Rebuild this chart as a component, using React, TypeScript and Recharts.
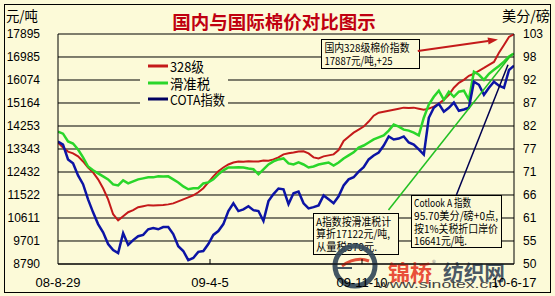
import React from 'react';
import { LineChart, Line, XAxis, YAxis, CartesianGrid, ReferenceLine } from 'recharts';

// ---- data ----
const xLabels = ['08-8-29', '09-4-5', '09-11-10', '10-6-17'];
const leftTicks = [8790, 9701, 10611, 11522, 12432, 13343, 14253, 15164, 16074, 16985, 17895];
const rightTicks = [50, 55.3, 60.6, 65.9, 71.2, 76.5, 81.8, 87.1, 92.4, 97.7, 103];

// 国内328级 (元/吨)
const grade328 = [
  13600, 13400, 13240, 13170, 13050, 12850, 12610, 12420, 12140, 11790,
  11350, 10760, 10520, 10680, 10840, 10920, 11040, 11080, 11120, 11110,
  11120, 11130, 11150, 11190, 11270, 11350, 11430, 11510, 11630, 11790,
  12020, 12260, 12460, 12610, 12730, 12810, 12850, 12840, 12860, 12850,
  12850, 12890, 12880, 12930, 13010, 13130, 13170, 13200, 13240, 13250,
  13170, 13010, 12970, 13050, 13090, 13130, 13300, 13660, 13830, 13990,
  14110, 14230, 14430, 14660, 14780, 14820, 14860, 14900, 14940, 14980,
  14970, 14980, 14940, 14900, 14940, 15020, 15140, 15290, 15490, 15770,
  15960, 16080, 16240, 16320, 16440, 16550, 16670, 16790, 17150, 17460,
  17780, 17887,
];

// 滑准税 (元/吨)
const slidingTax = [
  14030, 13950, 13640, 13560, 13320, 13010, 12650, 12500, 12380, 12260,
  12140, 11940, 11900, 12100, 11980, 12060, 12140, 12180, 12220, 12220,
  12260, 12250, 12260, 12140, 12020, 11860, 11750, 11790, 11790, 11980,
  12020, 12140, 12340, 12500, 12610, 12610, 12620, 12610, 12570, 12540,
  12340, 12540, 12730, 12850, 12930, 12970, 12770, 12730, 12810, 12730,
  12610, 12650, 12730, 12770, 12810, 12690, 12810, 12970, 13090, 13210,
  13400, 13480, 13600, 13720, 13800, 13880, 14070, 14310, 14230, 14110,
  14070, 13990, 13880, 14580, 15100, 15410, 15650, 15290, 15610, 15410,
  15610, 15650, 15290, 16400, 16280, 16080, 16320, 16480, 16630, 16800,
  17000, 17122,
];

// COTA指数 (美分/磅)
const cotaIndex = [
  78.2, 77.5, 74.1, 73.2, 70.4, 68.4, 64.9, 61.9, 59.2, 57.3,
  54.6, 53.2, 52.5, 57.1, 54.4, 55.5, 56.4, 56.7, 58.0, 58.3,
  58.0, 58.5, 58.5, 56.9, 54.1, 53.0, 50.9, 51.4, 52.8, 53.0,
  54.6, 56.7, 57.6, 59.2, 62.2, 64.0, 62.2, 62.6, 63.3, 62.4,
  62.2, 59.9, 64.5, 66.1, 67.4, 67.2, 63.8, 66.3, 66.7, 64.0,
  62.8, 63.1, 63.5, 65.8, 64.9, 64.0, 65.6, 68.1, 69.5, 70.0,
  71.3, 72.3, 74.1, 75.0, 75.7, 77.3, 79.4, 78.7, 78.9, 79.4,
  78.0, 77.5, 76.4, 75.2, 83.7, 86.0, 86.9, 85.1, 86.0, 87.2,
  85.3, 85.6, 86.0, 92.0, 91.3, 89.0, 90.6, 92.0, 91.1, 90.6,
  94.7, 95.7,
];

// pointer anchors (data coordinates: index, value)
const redArrow = [{ x: 71.8, y: 17222 }, { x: 87.8, y: 17677 }];
const greenPointer = [{ x: 65.95, y: 10928 }, { x: 90.6, y: 17103 }];
const navyPointer = [{ x: 79.5, y: 65.9 }, { x: 89.8, y: 95.9 }];

const lastIdx = grade328.length - 1;
const xTicks = xLabels.map((_, k) => (k * lastIdx) / (xLabels.length - 1));
const data = grade328.map((v, i) => ({ i, r: v, g: slidingTax[i], c: cotaIndex[i] }));

// ---- style ----
const BG = '#fcfad8';
const RED = '#c41a1a';
const GREEN = '#2ad62a';
const NAVY = '#0c14a4';
const CJK = '"Noto Sans CJK SC", sans-serif';
const LAT = '"Liberation Sans", Arial, sans-serif';
const X_TICK_MARGIN = 14;

const XTick = (props: any) => {
  const { x, y, payload } = props;
  const step = lastIdx / (xLabels.length - 1);
  const k = Math.round(payload.value / step);
  const base = y - X_TICK_MARGIN;
  return (
    <g>
      {k > 0 && k < xLabels.length - 1 ? (
        <line x1={x} x2={x} y1={base} y2={base - 5} stroke="#000" strokeWidth={1} />
      ) : null}
      <text x={x} y={y} dy="0.71em" textAnchor="middle" fontSize={13} fontFamily={LAT} fill="#000">
        {xLabels[k]}
      </text>
    </g>
  );
};

const ArrowShape = (p: any) => {
  const { x1, y1, x2, y2 } = p;
  const ang = Math.atan2(y2 - y1, x2 - x1);
  const L = 10;
  const W = 3.5;
  const bx = x2 - L * Math.cos(ang);
  const by = y2 - L * Math.sin(ang);
  const px = -Math.sin(ang) * W;
  const py = Math.cos(ang) * W;
  return (
    <g>
      <line x1={x1} y1={y1} x2={bx} y2={by} stroke={RED} strokeWidth={2} />
      <polygon points={`${x2},${y2} ${bx + px},${by + py} ${bx - px},${by - py}`} fill={RED} />
    </g>
  );
};

const T = (p: { x: number; y: number; w?: number; size?: number; children: any; fill?: string; bold?: boolean; family?: string }) => (
  <text
    x={p.x}
    y={p.y}
    dominantBaseline="central"
    fontSize={p.size ?? 11}
    fontFamily={p.family ?? CJK}
    fill={p.fill ?? '#000'}
    fontWeight={p.bold ? 700 : 400}
    textLength={p.w}
    lengthAdjust={p.w ? 'spacingAndGlyphs' : undefined}
  >
    {p.children}
  </text>
);

export default function App() {
  return (
    <div style={{ position: 'absolute', left: 0, top: 0, width: 555, height: 296, background: BG, overflow: 'hidden' }}>
      <div style={{ position: 'absolute', left: 4, top: 4, width: 545, height: 287, border: '1px solid #000' }} />
      <div style={{ position: 'absolute', left: 0, top: 0 }}>
        <LineChart width={555} height={296} data={data} margin={{ top: 34, right: 0, bottom: 12, left: 0 }}>
          <CartesianGrid yAxisId="left" vertical={false} stroke="#000" strokeOpacity={1} />
          <XAxis
            dataKey="i"
            type="number"
            domain={[0, lastIdx]}
            ticks={xTicks}
            interval={0}
            height={20}
            tickSize={0}
            tickMargin={X_TICK_MARGIN}
            tickLine={false}
            tick={<XTick />}
            axisLine={{ stroke: '#000' }}
            allowDataOverflow
          />
          <YAxis
            yAxisId="left"
            domain={[8790, 17895]}
            ticks={leftTicks}
            interval={0}
            width={58}
            tickSize={0}
            tickMargin={18}
            tickLine={false}
            axisLine={{ stroke: '#000' }}
            tick={{ fill: '#000', fontSize: 12, fontFamily: LAT }}
            allowDataOverflow
          />
          <YAxis
            yAxisId="right"
            orientation="right"
            domain={[50, 103]}
            ticks={rightTicks}
            interval={0}
            width={41}
            tickSize={0}
            tickMargin={9}
            tickLine={false}
            axisLine={{ stroke: '#000' }}
            tickFormatter={(v: number) => String(Math.round(v))}
            tick={{ fill: '#000', fontSize: 12, fontFamily: LAT }}
            allowDataOverflow
          />

          {/* legend background + items */}
          <rect x={140} y={59} width={88} height={48} fill={BG} />
          <line x1={148} x2={168} y1={66} y2={66} stroke={RED} strokeWidth={3} />
          <line x1={148} x2={168} y1={83} y2={83} stroke={GREEN} strokeWidth={3} />
          <line x1={148} x2={168} y1={99} y2={99} stroke="#000060" strokeWidth={3} />
          <T x={170} y={66} size={13.5} w={34}>328级</T>
          <T x={170} y={83} size={13.5} w={40}>滑准税</T>
          <T x={170} y={99} size={13.5} w={55}>COTA指数</T>

          <Line yAxisId="left" dataKey="r" stroke={RED} strokeWidth={2} dot={false} isAnimationActive={false} />
          <Line yAxisId="left" dataKey="g" stroke={GREEN} strokeWidth={2.5} dot={false} isAnimationActive={false} />
          <Line yAxisId="right" dataKey="c" stroke={NAVY} strokeWidth={2.5} dot={false} isAnimationActive={false} />

          <ReferenceLine yAxisId="left" segment={redArrow} shape={ArrowShape} ifOverflow="visible" />
          <ReferenceLine yAxisId="left" segment={greenPointer} stroke="#22c022" strokeWidth={1.5} ifOverflow="visible" />
          <ReferenceLine yAxisId="right" segment={navyPointer} stroke="#000050" strokeWidth={1.5} ifOverflow="visible" />

          {/* title & units */}
          <text x={274} y={21} textAnchor="middle" dominantBaseline="central" fontSize={18.5} fontWeight={700} fontFamily={CJK} fill="#c00010">
            国内与国际棉价对比图示
          </text>
          <T x={6} y={15} size={14} w={32}>元/吨</T>
          <T x={502} y={15} size={14} w={48}>美分/磅</T>

          {/* annotation box 1 */}
          <rect x={321.5} y={39.5} width={98} height={29} fill={BG} stroke="#000" strokeWidth={1} />
          <T x={324.5} y={47} w={85}>国内328级棉价指数</T>
          <T x={324.5} y={59.5} w={68}>17887元/吨,+25</T>

          {/* annotation box 2 */}
          <rect x={313.5} y={213.5} width={85} height={41} fill={BG} stroke="#000" strokeWidth={1} />
          <T x={316} y={220.5} w={75}>A指数按滑准税计</T>
          <T x={316} y={233} w={74}>算折17122元/吨,</T>
          <T x={316} y={245.5} w={61}>从量税570元.</T>

          {/* annotation box 3 */}
          <rect x={411.5} y={195.5} width={90} height={52} fill={BG} stroke="#000" strokeWidth={1} />
          <T x={414} y={202} w={57}>Cotlook A 指数</T>
          <T x={414} y={214.5} w={84}>95.70美分/磅+0点,</T>
          <T x={414} y={227.5} w={84}>按1%关税折口岸价</T>
          <T x={414} y={239.5} w={53}>16641元/吨.</T>

          {/* watermark */}
          <g opacity={0.92}>
            <circle cx={355} cy={266} r={20} fill="none" stroke="#34495a" strokeWidth={5} />
            <line x1={337} x2={352} y1={268} y2={268} stroke="#34495a" strokeWidth={2} />
            <path d="M342 266 Q 356 256 369 261" fill="none" stroke="#e0402a" strokeWidth={3} />
            <T x={388} y={271} size={22} w={44} bold fill="#e8412c">锦桥</T>
            <T x={432} y={262} size={8} fill="#888">®</T>
            <T x={443} y={271} size={21} w={62} bold fill="#3b4b5b">纺织网</T>
            <T x={377} y={284} size={11} w={121} family={LAT} fill="#333">www.sinotex.cn</T>
          </g>
        </LineChart>
      </div>
    </div>
  );
}
